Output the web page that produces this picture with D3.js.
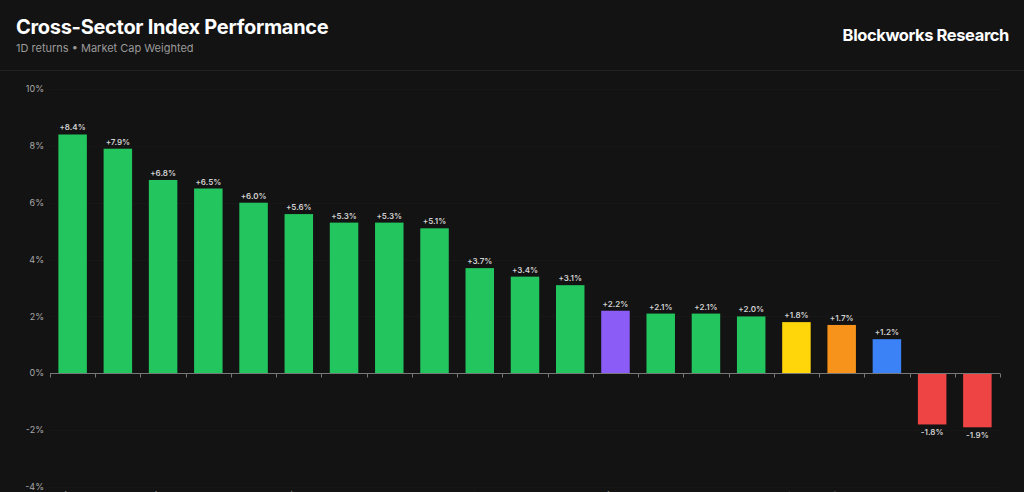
<!DOCTYPE html>
<html>
<head>
<meta charset="utf-8">
<script src="https://cdn.jsdelivr.net/npm/d3@7"></script>
<style>
  html, body { margin: 0; padding: 0; background: #131313; overflow: hidden; }
  svg { display: block; font-family: Inter, "Noto Sans", sans-serif; }
</style>
</head>
<body>
<svg id="chart"></svg>
<script>
// sector indexes, sorted by 1D return
const sectors = ['AI', 'Memes', 'DePIN', 'Gaming', 'L2s', 'DeFi', 'RWA', 'NFTs', 'Oracles', 'Privacy', 'Storage', 'Exchanges', 'ETH', 'Lending', 'DEXs', 'Infra', 'BNB', 'BTC', 'SOL', 'Stables', 'Payments'];
const returns = [8.4, 7.9, 6.8, 6.5, 6.0, 5.6, 5.3, 5.3, 5.1, 3.7, 3.4, 3.1, 2.2, 2.1, 2.1, 2.0, 1.8, 1.7, 1.2, -1.8, -1.9];
const barColors = ['#22c55e', '#22c55e', '#22c55e', '#22c55e', '#22c55e', '#22c55e', '#22c55e', '#22c55e', '#22c55e', '#22c55e', '#22c55e', '#22c55e', '#8b5cf6', '#22c55e', '#22c55e', '#22c55e', '#ffd60a', '#f7931a', '#3b82f6', '#ef4444', '#ef4444'];
const yTicks = [-4, -2, 0, 2, 4, 6, 8, 10];

const width = 1024;
const height = 492;
const margin = { top: 89, right: 24, bottom: 5, left: 50 };

const data = sectors.map((s, i) => ({ sector: s, value: returns[i], color: barColors[i] }));

const svg = d3.select('#chart')
  .attr('width', width)
  .attr('height', height)
  .style('background', '#131313');

// header
svg.append('text')
  .attr('x', 16)
  .attr('y', 34)
  .attr('fill', '#ffffff')
  .attr('font-size', '20px')
  .attr('font-weight', 'bold')
  .attr('letter-spacing', '-0.3px')
  .text('Cross-Sector Index Performance');

svg.append('text')
  .attr('x', 16)
  .attr('y', 52)
  .attr('fill', '#9a9a9a')
  .attr('font-size', '11px')
  .text('1D returns • Market Cap Weighted');

svg.append('text')
  .attr('x', 1009)
  .attr('y', 41)
  .attr('text-anchor', 'end')
  .attr('fill', '#ffffff')
  .attr('font-size', '16.5px')
  .attr('font-weight', 'bold')
  .attr('letter-spacing', '-0.4px')
  .text('Blockworks Research');

svg.append('line')
  .attr('x1', 0)
  .attr('x2', width)
  .attr('y1', 70.5)
  .attr('y2', 70.5)
  .attr('stroke', '#222222');

const x = d3.scaleBand()
  .domain(sectors)
  .range([margin.left, 1000])
  .paddingInner(0.37)
  .paddingOuter(0.185);

const y = d3.scaleLinear()
  .domain([-4, 10])
  .range([487, margin.top]);

// faint grid
svg.append('g')
  .selectAll('line')
  .data(yTicks)
  .join('line')
  .attr('x1', margin.left)
  .attr('x2', 1000)
  .attr('y1', d => Math.round(y(d)) + 0.5)
  .attr('y2', d => Math.round(y(d)) + 0.5)
  .attr('stroke', '#171717');

// y axis labels
svg.append('g')
  .selectAll('text')
  .data(yTicks)
  .join('text')
  .attr('x', 44)
  .attr('y', d => y(d))
  .attr('dy', '0.35em')
  .attr('text-anchor', 'end')
  .attr('fill', '#a8a8a8')
  .attr('font-size', '9px')
  .text(d => d + '%');

// bars
svg.selectAll('.bar')
  .data(data)
  .join('rect')
  .attr('class', 'bar')
  .attr('x', d => x(d.sector))
  .attr('width', x.bandwidth())
  .attr('y', d => y(Math.max(0, d.value)))
  .attr('height', d => Math.abs(y(d.value) - y(0)))
  .attr('fill', d => d.color);

// value labels
svg.selectAll('.val')
  .data(data)
  .join('text')
  .attr('class', 'val')
  .attr('x', d => x(d.sector) + x.bandwidth() / 2)
  .attr('y', d => d.value >= 0 ? y(d.value) - 4 : y(d.value) + 11)
  .attr('text-anchor', 'middle')
  .attr('fill', '#d0d0d0')
  .attr('font-size', '8px')
  .attr('font-weight', '600')
  .text(d => (d.value > 0 ? '+' : '') + d.value.toFixed(1) + '%');

// zero axis with ticks at band edges
const zeroY = Math.round(y(0)) + 0.5;
const axis = svg.append('g');
axis.append('line')
  .attr('x1', margin.left)
  .attr('x2', 1000)
  .attr('y1', zeroY)
  .attr('y2', zeroY)
  .attr('stroke', '#777777');

const edges = sectors.map(s => x(s) - x.step() * x.paddingInner() / 2);
edges.push(1000);
edges[0] = margin.left;
axis.selectAll('.tick')
  .data(edges)
  .join('line')
  .attr('class', 'tick')
  .attr('x1', d => Math.round(d) + 0.5)
  .attr('x2', d => Math.round(d) + 0.5)
  .attr('y1', zeroY)
  .attr('y2', zeroY + 4)
  .attr('stroke', '#777777');

// category labels at bottom (clipped by the frame, as in the source)
svg.append('g')
  .selectAll('text')
  .data(data)
  .join('text')
  .attr('transform', d => `translate(${x(d.sector) + x.bandwidth() / 2 - 2},495) rotate(-45)`)
  .attr('text-anchor', 'end')
  .attr('fill', '#a8a8a8')
  .attr('font-size', '9px')
  .text(d => d.sector);
</script>
</body>
</html>
